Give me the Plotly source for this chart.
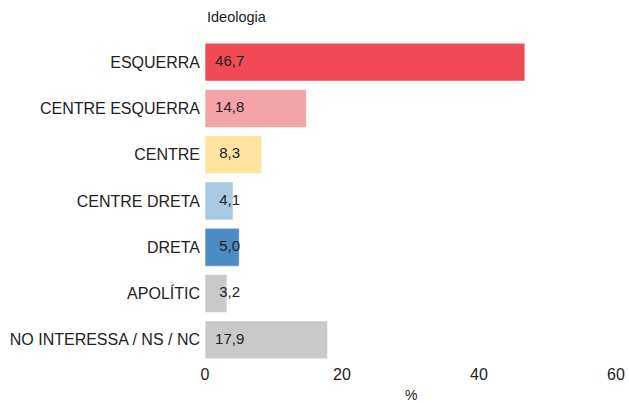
import plotly.graph_objects as go

categories = ["ESQUERRA", "CENTRE ESQUERRA", "CENTRE", "CENTRE DRETA", "DRETA",
              "APOLÍTIC", "NO INTERESSA / NS / NC"]
values = [46.7, 14.8, 8.3, 4.1, 5.0, 3.2, 17.9]
value_labels = ["46,7", "14,8", "8,3", "4,1", "5,0", "3,2", "17,9"]
colors = ["#F04A54", "#F4A3A7", "#FEE4A0", "#A7C9E1", "#4A8CC3", "#C9C9C9", "#C9C9C9"]
x_ticks = [0, 20, 40, 60]

FONT = "Liberation Sans, Arial, sans-serif"

fig = go.Figure()
fig.add_trace(go.Bar(
    y=categories, x=values, orientation="h",
    marker=dict(color=colors, line=dict(color="rgba(255,255,255,0.6)", width=1)),
    hoverinfo="skip", showlegend=False,
))
fig.add_trace(go.Scatter(
    y=categories, x=[3.6] * len(categories), mode="text",
    text=value_labels, textposition="middle center",
    textfont=dict(family=FONT, size=15, color="#222222"),
    hoverinfo="skip", showlegend=False, cliponaxis=False,
))

fig.update_layout(
    width=629, height=403,
    margin=dict(l=205, r=13, t=39, b=40),
    paper_bgcolor="white", plot_bgcolor="white",
    bargap=0.18,
    font=dict(family=FONT, color="#222222"),
    xaxis=dict(range=[0, 60], tickvals=x_ticks, ticktext=[str(t) for t in x_ticks],
               showgrid=False, zeroline=False, showline=False, ticks="",
               automargin=False, ticklabeloverflow="allow",
               tickfont=dict(size=16, color="#222222")),
    yaxis=dict(categoryorder="array", categoryarray=categories, autorange="reversed",
               showgrid=False, zeroline=False, showline=False, ticks="",
               automargin=False,
               tickfont=dict(size=16, color="#222222"), ticklabelstandoff=4),
    annotations=[
        dict(text="Ideologia", xref="paper", yref="paper", x=0, y=1,
             xanchor="left", yanchor="bottom", yshift=12, showarrow=False,
             font=dict(size=14.5, color="#222222", family=FONT)),
        dict(text="%", xref="paper", yref="paper", x=0.5, y=0,
             xanchor="center", yanchor="middle", yshift=-32, showarrow=False,
             font=dict(size=14, color="#222222", family=FONT)),
    ],
)

# remove the page's default 8px body margin so the 629x403 figure fills the window
fig.write_html("out.html",
               config={"displayModeBar": False},
               post_script="document.body.style.margin='0';document.body.style.overflow='hidden';")
